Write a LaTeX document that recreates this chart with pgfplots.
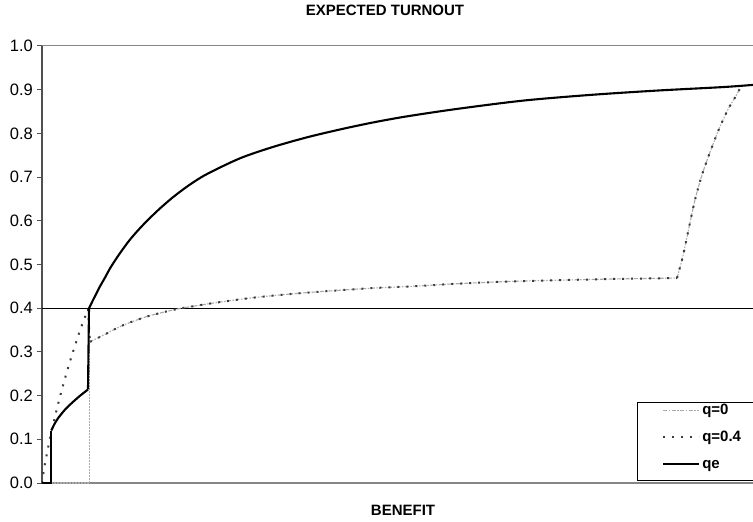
\documentclass[border=0pt]{standalone}
\usepackage{pgfplots}
\pgfplotsset{compat=1.18}
\usepackage{fontspec}
\setmainfont{Liberation Sans}
\definecolor{axdark}{RGB}{80,80,80}
\definecolor{axgray}{RGB}{134,134,134}
\definecolor{qzero}{RGB}{170,170,170}
\definecolor{qfour}{RGB}{60,60,60}
\begin{document}
\begin{tikzpicture}
\useasboundingbox (0bp,0bp) rectangle (753bp,522bp);
\begin{axis}[
  at={(42bp,39bp)}, anchor=south west,
  scale only axis, width=711bp, height=437bp,
  xmin=0, xmax=711, ymin=0, ymax=1,
  clip=false,
  separate axis lines,
  axis x line*=bottom, axis y line*=left,
  x axis line style={axgray, line width=1.2bp, -},
  y axis line style={axdark, line width=1.2bp, -},
  xtick=\empty,
  ytick={0,0.1,0.2,0.3,0.4,0.5,0.6,0.7,0.8,0.9,1.0},
  yticklabels={0.0,0.1,0.2,0.3,0.4,0.5,0.6,0.7,0.8,0.9,1.0},
  ytick pos=left,
  tick align=outside,
  major tick length=5bp,
  ytick style={axdark, line width=1bp},
  yticklabel style={font=\fontsize{16.5bp}{19bp}\selectfont, inner sep=4bp},
  legend style={draw=none, fill=none, at={(0.8720,0.1831)}, anchor=north west,
    inner sep=0pt, row sep=13bp, column sep=2bp,
    font=\bfseries\fontsize{15bp}{18bp}\selectfont,
    nodes={inner sep=0pt, text height=11bp, text depth=3bp}},
  legend cell align=left,
  legend image code/.code={\draw[#1] (0bp,0bp) -- (36bp,0bp);},
]
% frame lines
\addplot[axgray, line width=1bp, forget plot] coordinates {(0,1) (711,1)};
\addplot[black, line width=0.9bp, forget plot] coordinates {(0,0.4) (711,0.4)};

% ---------- q=0 ----------
\addplot[qzero, line width=1.1bp, dash pattern=on 1.5bp off 1.5bp, forget plot] coordinates {
(0,0) (47.5,0) (47.5,0.323)
};
\addplot[qzero, line width=1.1bp, dash pattern=on 4bp off 1.5bp on 1.5bp off 1.5bp, smooth, tension=0.5, forget plot] coordinates {
(47.5,0.323) (55,0.331) (63,0.340) (71,0.350) (80,0.360) (90,0.369) (105,0.381) (120,0.390)
(135,0.398) (150,0.404) (175,0.413) (211,0.424) (251,0.433) (291,0.440) (331,0.446)
(370,0.450) (415,0.456) (465,0.461) (515,0.464) (575,0.467) (635,0.469)
};
\addplot[qzero, line width=1.1bp, dash pattern=on 4bp off 1.5bp on 1.5bp off 1.5bp, smooth, tension=0.5] coordinates {
(635,0.469) (641,0.520) (647,0.585) (653,0.648) (660,0.705) (668,0.757) (677,0.810) (686,0.855)
(693,0.882) (698,0.903)
};
\addlegendentry{q=0}

% ---------- q=0.4 ----------
\addplot[qfour, line width=2bp, dash pattern=on 2bp off 7bp, smooth, tension=0.5, forget plot] coordinates {
(0,0) (2,0.032) (5,0.068) (9.3,0.116) (16,0.180) (22.7,0.237) (29.3,0.288)
(37.7,0.347) (46,0.398)
};
\addplot[qfour, line width=2bp, dash pattern=on 2bp off 7bp, forget plot] coordinates {
(46,0.398) (48,0.323)
};
\addplot[qfour, line width=2bp, dash pattern=on 2bp off 7bp, smooth, tension=0.5, forget plot] coordinates {
(48,0.323) (55,0.331) (63,0.340) (71,0.350) (80,0.360) (90,0.369) (105,0.381) (120,0.390)
(135,0.398) (150,0.404) (175,0.413) (211,0.424) (251,0.433) (291,0.440) (331,0.446)
(370,0.450) (415,0.456) (465,0.461) (515,0.464) (575,0.467) (635,0.469)
};
\addplot[qfour, line width=2bp, dash pattern=on 2bp off 7bp, smooth, tension=0.5] coordinates {
(635,0.469) (641,0.520) (647,0.585) (653,0.648) (660,0.705) (668,0.757) (677,0.810) (686,0.855)
(693,0.882) (698,0.903)
};
\addlegendentry{q=0.4}

% ---------- qe ----------
\addplot[black, line width=2.1bp, forget plot] coordinates {
(0,0) (9.3,0) (9.3,0.120)
};
\addplot[black, line width=2.1bp, smooth, tension=0.5, forget plot] coordinates {
(9.3,0.120) (12,0.133) (16,0.148) (22.7,0.167) (29.3,0.182)
(37.7,0.199) (46,0.214)
};
\addplot[black, line width=2.1bp, forget plot] coordinates {
(46,0.214) (47,0.400)
};
\addplot[black, line width=2.1bp, smooth, tension=0.5] coordinates {
(47,0.400) (52,0.423) (58,0.450) (63,0.470) (68,0.491) (73,0.509) (78,0.526)
(88,0.557) (100,0.588) (115,0.622) (131,0.654) (148,0.683) (165,0.707) (198,0.743)
(231,0.769) (265,0.791) (298,0.809) (331,0.825) (365,0.839) (415,0.856) (481,0.875)
(548,0.888) (615,0.898) (681,0.906) (711,0.911)
};
\addlegendentry{qe}
\end{axis}
\draw[black, line width=0.9bp] (637.5bp,42bp) rectangle (770bp,120bp);
\node[font=\bfseries\fontsize{15bp}{18bp}\selectfont, anchor=base] at (385bp,506bp) {EXPECTED TURNOUT};
\node[font=\bfseries\fontsize{15bp}{18bp}\selectfont, anchor=base] at (403bp,6.3bp) {BENEFIT};
\end{tikzpicture}
\end{document}
